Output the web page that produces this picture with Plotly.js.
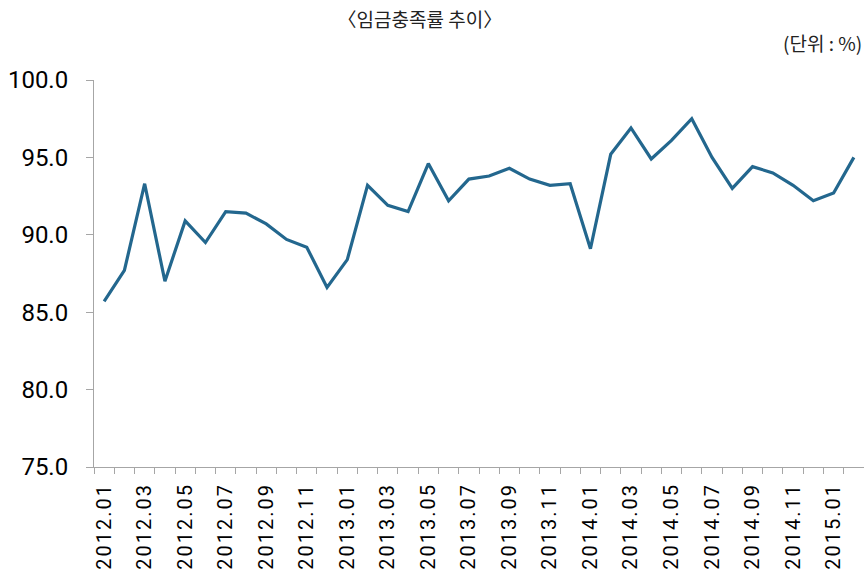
<!DOCTYPE html>
<html>
<head>
<meta charset="utf-8">
<script src="https://cdn.plot.ly/plotly-3.0.1.min.js"></script>
<style>
html,body{margin:0;padding:0;background:#fff;}
#chart{width:864px;height:574px;}
.xtick text{letter-spacing:2px;}
</style>
</head>
<body>
<div id="chart"></div>
<script>
var months = ["2012.01","2012.02","2012.03","2012.04","2012.05","2012.06","2012.07","2012.08","2012.09","2012.10","2012.11","2012.12",
"2013.01","2013.02","2013.03","2013.04","2013.05","2013.06","2013.07","2013.08","2013.09","2013.10","2013.11","2013.12",
"2014.01","2014.02","2014.03","2014.04","2014.05","2014.06","2014.07","2014.08","2014.09","2014.10","2014.11","2014.12",
"2015.01","2015.02"];
var rates = [85.7,87.7,93.3,87.0,90.9,89.5,91.5,91.4,90.7,89.7,89.2,86.6,
88.4,93.2,91.9,91.5,94.6,92.2,93.6,93.8,94.3,93.6,93.2,93.3,
89.1,95.2,96.9,94.9,96.1,97.5,95.0,93.0,94.4,94.0,93.2,92.2,
92.7,95.0];
var tickLabels = months.map(function(m,i){ return i % 2 === 0 ? m : ""; });
var yTicks = [75,80,85,90,95,100];

var trace = {
  x: months, y: rates, type: "scatter", mode: "lines",
  line: {color: "#23678e", width: 3.2},
  hoverinfo: "x+y"
};
var layout = {
  width: 864, height: 574,
  margin: {l: 94, r: 0, t: 80, b: 107},
  paper_bgcolor: "#fff", plot_bgcolor: "#fff",
  showlegend: false,
  font: {family: "Roboto, 'Noto Sans CJK KR', sans-serif", color: "#000"},
  title: {
    text: "〈임금충족률 추이〉",
    font: {family: "'Noto Sans CJK KR', sans-serif", size: 19, color: "#222"},
    x: 0.486, xanchor: "center", xref: "container", y: 0.965, yanchor: "middle", yref: "container"
  },
  xaxis: {
    type: "category",
    tickmode: "array", tickvals: months, ticktext: tickLabels,
    tickson: "boundaries",
    ticks: "outside", ticklen: 6, tickcolor: "#a6a6a6", tickwidth: 1,
    tickangle: -90,
    tickfont: {family: "Roboto, sans-serif", size: 20, color: "#000"},
    ticklabelstandoff: 7,
    showline: true, linecolor: "#a6a6a6", linewidth: 1,
    showgrid: false, zeroline: false,
    range: [-0.5, 37.5], fixedrange: true
  },
  yaxis: {
    range: [75, 100],
    tickmode: "array", tickvals: yTicks,
    tickformat: ".1f",
    ticks: "outside", ticklen: 7, tickcolor: "#a6a6a6", tickwidth: 1,
    tickfont: {family: "Roboto, sans-serif", size: 24, color: "#000"},
    ticklabelstandoff: 13,
    showline: true, linecolor: "#a6a6a6", linewidth: 1,
    showgrid: false, zeroline: false, fixedrange: true
  },
  annotations: [{
    text: "(단위 : %)", xref: "paper", yref: "paper",
    x: 1, y: 1, xanchor: "right", yanchor: "bottom", yshift: 22,
    showarrow: false,
    font: {family: "'Noto Sans CJK KR', sans-serif", size: 19, color: "#222"}
  }]
};
Plotly.newPlot("chart", [trace], layout, {displayModeBar: false, staticPlot: true});
</script>
</body>
</html>
